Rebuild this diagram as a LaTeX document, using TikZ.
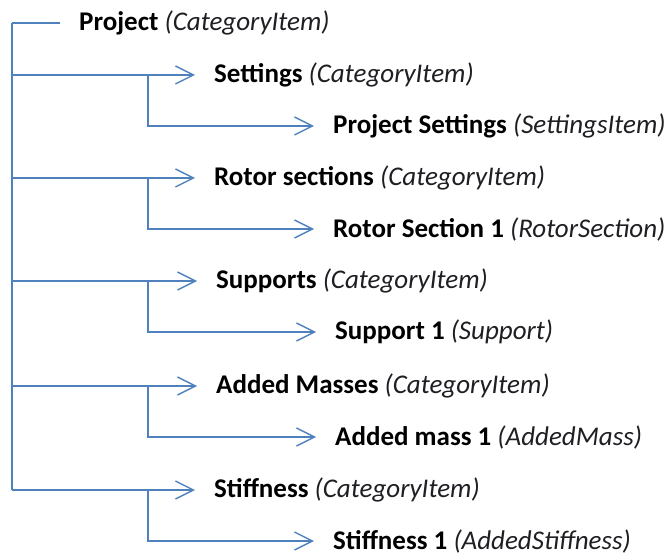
\documentclass[tikz,border=0pt]{standalone}
\usepackage{fontspec}
\setmainfont{Carlito}
\usetikzlibrary{arrows.meta}
\definecolor{linkblue}{RGB}{79,129,189}
\definecolor{typegray}{RGB}{30,30,35}
\tikzset{
  x=1pt, y=-1pt,
  link/.style={draw=linkblue, line width=1.4pt},
  arr/.style={link, -{Straight Barb[length=18pt,width=18pt,line width=1.4pt]}},
  item/.style={anchor=west, inner sep=0pt, font=\fontsize{27}{32}\selectfont},
}
\newcommand{\itm}[2]{\textbf{#1} {\color{typegray}\itshape(#2)}}
\begin{document}
\begin{tikzpicture}
\useasboundingbox (0,0) rectangle (670,556);

% item labels
\node[item] (proj)   at (79,23)   {\itm{Project}{CategoryItem}};
\node[item] (set)    at (214,75)  {\itm{Settings}{CategoryItem}};
\node[item] (pset)   at (333,126) {\itm{Project Settings}{SettingsItem}};
\node[item] (rot)    at (214,178) {\itm{Rotor sections}{CategoryItem}};
\node[item] (rsec)   at (333,229) {\itm{Rotor Section 1}{RotorSection}};
\node[item] (sup)    at (216,281) {\itm{Supports}{CategoryItem}};
\node[item] (sup1)   at (335,332) {\itm{Support 1}{Support}};
\node[item] (mass)   at (216,386) {\itm{Added Masses}{CategoryItem}};
\node[item] (mass1)  at (335,437) {\itm{Added mass 1}{AddedMass}};
\node[item] (stiff)  at (214,490) {\itm{Stiffness}{CategoryItem}};
\node[item] (stiff1) at (333,541) {\itm{Stiffness 1}{AddedStiffness}};

% trunk and branch columns
\coordinate (trunk) at (12,0);
\coordinate (col)   at (148,0);

\draw[link] (trunk |- proj.west) -- ([xshift=-19pt]proj.west);
\draw[link] (trunk |- proj.west) -- (trunk |- stiff.west);

\foreach \cat/\sub in {set/pset, rot/rsec, sup/sup1, mass/mass1, stiff/stiff1}{
  \draw[arr] (trunk |- \cat.west) -- ([xshift=-19pt]\cat.west);
  \draw[arr] (col |- \cat.west) -- (col |- \sub.west) -- ([xshift=-19pt]\sub.west);
}
\end{tikzpicture}
\end{document}
